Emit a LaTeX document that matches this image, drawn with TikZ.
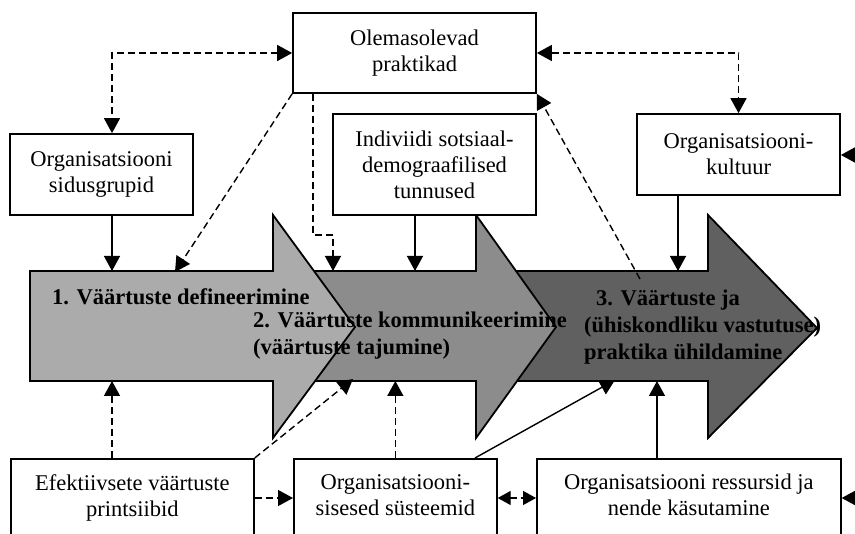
\documentclass[tikz,border=0pt]{standalone}
\usepackage{fontspec}
\setmainfont{Liberation Serif}
\usetikzlibrary{arrows.meta}

\definecolor{stageA}{gray}{0.67}
\definecolor{stageB}{gray}{0.55}
\definecolor{stageC}{gray}{0.375}

\begin{document}
\begin{tikzpicture}[x=1pt, y=-1pt,
  txt/.style={font=\fontsize{22.5}{26}\selectfont},
  box/.style={draw, line width=1.7pt, fill=white, align=center, inner sep=0pt, txt},
  lowbox/.style={box, anchor=north west, inner ysep=15.5pt, text depth=60pt},
  stage/.style={draw, line width=1.8pt, line join=miter},
  stagetext/.style={font=\bfseries\fontsize{22.5}{27}\selectfont, inner sep=0pt, align=left},
  tip/.style={Triangle[length=15pt,width=16pt]},
  conn/.style={line width=1.4pt, -{Triangle[length=15pt,width=16pt]}},
  dconn/.style={conn, dash pattern=on 7pt off 4pt},
  dboth/.style={line width=1.4pt, dash pattern=on 7pt off 4pt,
    {Triangle[length=15pt,width=16pt]}-{Triangle[length=15pt,width=16pt]}},
  smallboth/.style={line width=1.4pt, dash pattern=on 7pt off 4pt,
    {Triangle[length=13pt,width=14pt]}-{Triangle[length=13pt,width=14pt]}},
]
\useasboundingbox (0,0) rectangle (855,534);
\clip (0,0) rectangle (855,534);

% the three process stages (drawn back to front)
\draw[stage, fill=stageC] (450,271) -- (708,271) -- (708,215) -- (817,328)
  -- (708,438) -- (708,381) -- (450,381) -- cycle;
\draw[stage, fill=stageB] (200,271) -- (476,271) -- (476,215) -- (556,327)
  -- (476,438) -- (476,381) -- (200,381) -- cycle;
\draw[stage, fill=stageA] (30,271) -- (273,271) -- (273,215) -- (355,327)
  -- (273,438) -- (273,381) -- (30,381) -- cycle;

\node[stagetext, anchor=base west] (s1) at (52,305) {1. Väärtuste defineerimine};
\node[stagetext, anchor=north west] (s2) at (253,311.5)
  {2. Väärtuste kommunikeerimine\\(väärtuste tajumine)};
\node[stagetext, anchor=north west] (s3) at (584,289.5)
  {\hspace*{12pt}3. Väärtuste ja\\(ühiskondliku vastutuse)\\praktika ühildamine};

% factor boxes
\node[box, minimum width=243pt, minimum height=80pt] (olem) at (414.5,53)
  {Olemasolevad\\praktikad};
\node[box, minimum width=183pt, minimum height=81pt] (sidus) at (101.5,174.5)
  {Organisatsiooni\\sidusgrupid};
\node[box, minimum width=203pt, minimum height=101pt] (indiv) at (434.5,164.5)
  {Indiviidi sotsiaal-\\demograafilised\\tunnused};
\node[box, minimum width=203pt, minimum height=81pt] (kult) at (738.5,154.5)
  {Organisatsiooni-\\kultuur};
\node[lowbox, minimum width=243pt] (eff) at (10,458)
  {Efektiivsete väärtuste\\printsiibid};
\node[lowbox, minimum width=203pt] (sis) at (293,458)
  {Organisatsiooni-\\sisesed süsteemid};
\node[lowbox, minimum width=304pt] (res) at (536,458)
  {Organisatsiooni ressursid ja\\nende käsutamine};

% reference lines and free ends
\coordinate (bandTop) at (0,271);
\coordinate (bandBot) at (0,381);
\coordinate (colA) at (112,0);
\coordinate (colB) at (313,0);
\coordinate (colC) at (415,0);
\coordinate (colD) at (678,0);
\coordinate (colE) at (475,0);
\coordinate (colF) at (657,0);
\coordinate (rowR) at (0,498);
\coordinate (bend) at (333,235);
\coordinate (d1) at (175,272);
\coordinate (d2) at (353,379);
\coordinate (d3) at (640,279);
\coordinate (d4) at (615,380);
\coordinate (farK) at (875,155);
\coordinate (farR) at (875,498);

% connectors above the stages
\draw[dboth] (olem.west) -| (colA |- sidus.north);
\draw[dboth] (olem.east) -| (kult.north);
\draw[conn] (colA |- sidus.south) -- (colA |- bandTop);
\draw[dconn] (olem.south west) -- (d1);
\draw[dconn] (colB |- olem.south) |- (bend) -- (bend |- bandTop);
\draw[conn] (colC |- indiv.south) -- (colC |- bandTop);
\draw[dconn] (d3) -- (olem.south east);
\draw[conn] (colD |- kult.south) -- (colD |- bandTop);
\draw[conn] (farK) -- (kult.east |- farK);

% connectors below the stages
\draw[dconn] (colA |- eff.north) -- (colA |- bandBot);
\draw[dconn] (eff.north east) -- (d2);
\draw[dconn] (eff.east |- rowR) -- (sis.west |- rowR);
\draw[dconn] (sis.north) -- (sis.north |- bandBot);
\draw[conn] (colE |- sis.north) -- (d4);
\draw[conn] (colF |- res.north) -- (colF |- bandBot);
\draw[smallboth] (sis.east |- rowR) -- (res.west |- rowR);
\draw[conn] (farR) -- (res.east |- rowR);
\end{tikzpicture}
\end{document}
